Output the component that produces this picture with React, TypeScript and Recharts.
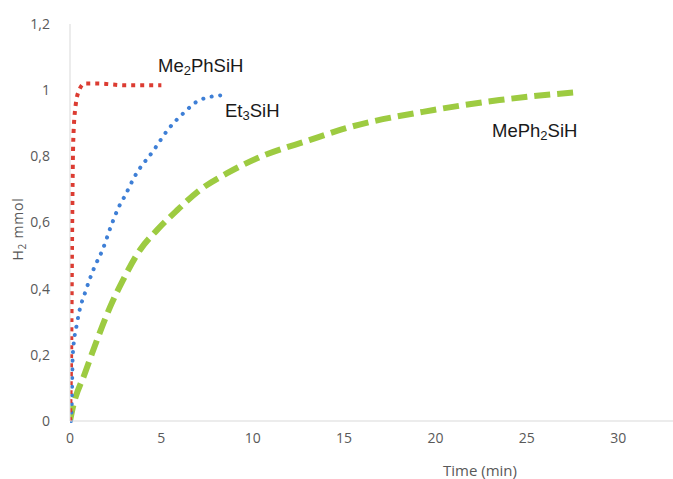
import { LineChart, Line, XAxis, YAxis } from "recharts";

// Me2PhSiH (red, square dots)
const me2phTime = [0, 0.08, 0.12, 0.18, 0.3, 0.5, 0.8, 1.5, 3, 5];
const me2phH2 = [0, 0.3, 0.6, 0.85, 0.95, 1.0, 1.02, 1.02, 1.015, 1.015];

// Et3SiH (blue, round dots)
const et3Time = [0.05, 0.1, 0.15, 0.4, 0.9, 1.3, 1.8, 2.25, 2.7, 3.0, 3.55, 4.6, 5.35, 6.2, 7.1, 8.35];
const et3H2 = [0.0, 0.06, 0.2, 0.3, 0.4, 0.46, 0.52, 0.59, 0.65, 0.68, 0.74, 0.82, 0.88, 0.93, 0.97, 0.985];

// MePh2SiH (green, dashes)
const meph2Time = [0, 0.16, 0.82, 1.48, 2.19, 2.9, 3.83, 4.76, 5.86, 7.1, 8.6, 10.4, 13.1, 15.1, 19.9, 23.5, 27.7];
const meph2H2 = [0, 0.042, 0.145, 0.245, 0.344, 0.426, 0.517, 0.577, 0.637, 0.698, 0.749, 0.798, 0.849, 0.885, 0.94, 0.97, 0.994];

const xTicks = [0, 5, 10, 15, 20, 25, 30];
const yTicks = [0, 0.2, 0.4, 0.6, 0.8, 1, 1.2];

const toRows = (xs: number[], ys: number[]) => xs.map((t, i) => ({ t, v: ys[i] }));

const greyFont = "'Open Sans', Lato, sans-serif";
const tickStyle = { fill: "#595959", fontSize: 14, fontFamily: greyFont };
const labelFont = "'Liberation Sans', Arial, sans-serif";

export default function App() {
  return (
    <div style={{ position: "absolute", left: 0, top: 0, width: 673, height: 479, background: "#fff" }}>
      <LineChart width={673} height={479} margin={{ top: 24, right: 0, bottom: 28, left: 30 }}>
        <XAxis
          type="number"
          dataKey="t"
          domain={[0, 33]}
          ticks={xTicks}
          allowDataOverflow
          stroke="#d9d9d9"
          tickLine={false}
          tick={tickStyle}
          tickMargin={6}
          height={30}
        />
        <YAxis
          type="number"
          dataKey="v"
          domain={[0, 1.2]}
          ticks={yTicks}
          stroke="#d9d9d9"
          tickLine={false}
          tick={tickStyle}
          tickMargin={14}
          width={40}
          tickFormatter={(v: number) => String(Number(v.toFixed(1))).replace(".", ",")}
        />
        <Line
          data={toRows(meph2Time, meph2H2)}
          dataKey="v"
          type="monotone"
          stroke="#9dcb41"
          strokeWidth={6}
          strokeDasharray="16 7"
          dot={false}
          isAnimationActive={false}
        />
        <Line
          data={toRows(et3Time, et3H2)}
          dataKey="v"
          type="monotone"
          stroke="#3e7fd6"
          strokeWidth={4}
          strokeLinecap="round"
          strokeDasharray="0.1 8.5"
          dot={false}
          isAnimationActive={false}
        />
        <Line
          data={toRows(me2phTime, me2phH2)}
          dataKey="v"
          type="monotone"
          stroke="#dc3c32"
          strokeWidth={4}
          strokeDasharray="4 5"
          dot={false}
          isAnimationActive={false}
        />
      </LineChart>

      <svg width={673} height={479} style={{ position: "absolute", left: 0, top: 0, pointerEvents: "none" }}>
        <g fontFamily={labelFont} fontSize={18.5} fill="#1a1a1a">
          <text x={158} y={72}>
            Me<tspan fontSize={13} dy={3}>2</tspan><tspan dy={-3}>PhSiH</tspan>
          </text>
          <text x={225} y={117}>
            Et<tspan fontSize={13} dy={3}>3</tspan><tspan dy={-3}>SiH</tspan>
          </text>
          <text x={492} y={137}>
            MePh<tspan fontSize={13} dy={3}>2</tspan><tspan dy={-3}>SiH</tspan>
          </text>
        </g>
        <g fontFamily={greyFont} fill="#595959">
          <text x={480} y={476} fontSize={15} textAnchor="middle">
            Time (min)
          </text>
          <text
            x={23}
            y={229}
            fontSize={14}
            textAnchor="middle"
            letterSpacing={0.8}
            transform="rotate(-90 23 229)"
          >
            H<tspan fontSize={10} dy={3}>2</tspan><tspan dy={-3}> mmol</tspan>
          </text>
        </g>
      </svg>
    </div>
  );
}
